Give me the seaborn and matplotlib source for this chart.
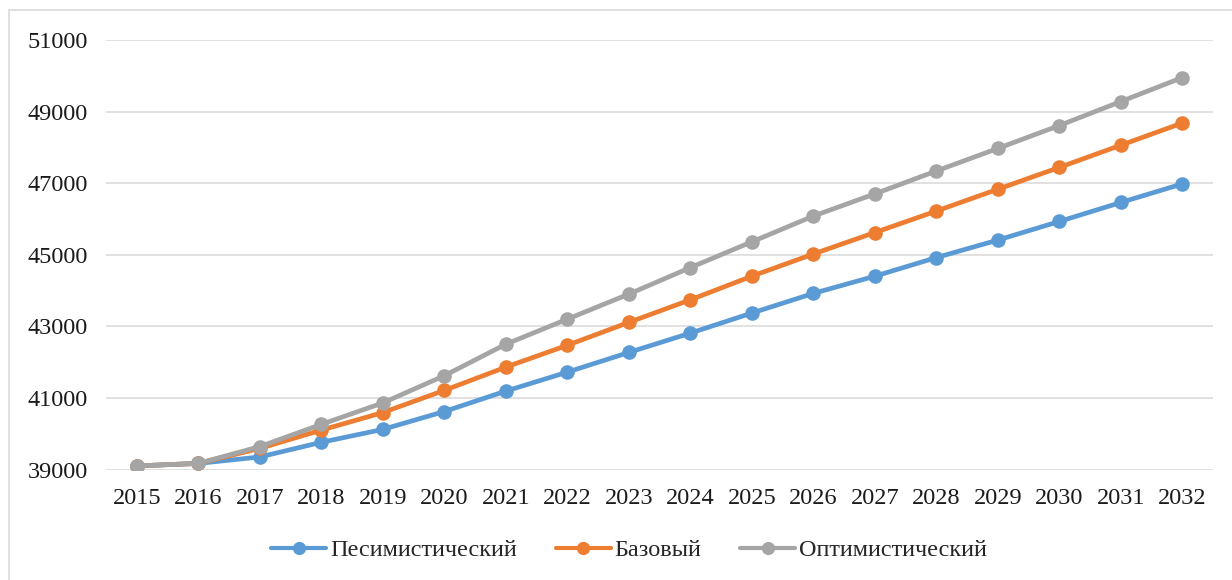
import matplotlib
matplotlib.use("Agg")
import matplotlib.pyplot as plt
import matplotlib.patches as mpatches
import seaborn as sns
import pandas as pd

years = list(range(2015, 2033))
pessimistic = [39100, 39170, 39350, 39760, 40120, 40620, 41190, 41720, 42270, 42810,
               43370, 43920, 44400, 44920, 45410, 45930, 46460, 46980]
base = [39100, 39170, 39590, 40100, 40590, 41210, 41860, 42470, 43110, 43740,
        44400, 45020, 45620, 46220, 46830, 47440, 48060, 48680]
optimistic = [39100, 39170, 39640, 40260, 40860, 41620, 42500, 43200, 43900, 44640,
              45360, 46080, 46700, 47340, 47970, 48610, 49280, 49950]
series_names = ["Песимистический", "Базовый", "Оптимистический"]
colors = ["#5B9BD5", "#ED7D31", "#A5A5A5"]
y_ticks = list(range(39000, 51001, 2000))

sns.set_style("white")
plt.rcParams["font.family"] = ["Liberation Serif", "DejaVu Serif"]

fig = plt.figure(figsize=(12.32, 5.8), dpi=100)
ax = fig.add_axes([106 / 1232, 1 - 469.5 / 580, (1213 - 106) / 1232, (469.5 - 40) / 580])

for name, vals, col in zip(series_names, [pessimistic, base, optimistic], colors):
    df = pd.DataFrame({"year": years, "value": vals})
    sns.lineplot(data=df, x="year", y="value", ax=ax, color=col, label=name,
                 linewidth=3.4, marker="o", markersize=10.5, markeredgewidth=0,
                 markeredgecolor=col)

ax.set_xlim(2014.5, 2032.5)
ax.set_ylim(39000, 51000)
ax.set_xticks(years)
ax.set_xticklabels([str(y) for y in years])
ax.set_yticks(y_ticks)
ax.set_yticklabels([str(v) for v in y_ticks])
ax.set_xlabel("")
ax.set_ylabel("")
ax.tick_params(axis="both", length=0, labelsize=17.5, colors="#1a1a1a")
ax.tick_params(axis="y", pad=13)
ax.tick_params(axis="x", pad=13)
ax.yaxis.grid(True, color="#D9D9D9", linewidth=1.1)
ax.xaxis.grid(False)
ax.set_axisbelow(True)
for s in ax.spines.values():
    s.set_visible(False)

handles, labels = ax.get_legend_handles_labels()
ax.get_legend().remove()
leg = fig.legend(handles, labels, loc="center", bbox_to_anchor=(629 / 1232, 1 - 550 / 580),
                 ncol=3, frameon=False, fontsize=17.5, handlelength=2.26,
                 handletextpad=0.15, columnspacing=1.6, borderaxespad=0)
for ln in leg.get_lines():
    ln.set_linewidth(3.0)
    ln.set_markersize(9.5)

border = mpatches.Rectangle((9 / 1232, -0.1), 1.2, 1 - 10 / 580 + 0.1,
                            transform=fig.transFigure, fill=False,
                            edgecolor="#D9D9D9", linewidth=1.2)
fig.patches.append(border)

fig.savefig("out.png", dpi=100)
